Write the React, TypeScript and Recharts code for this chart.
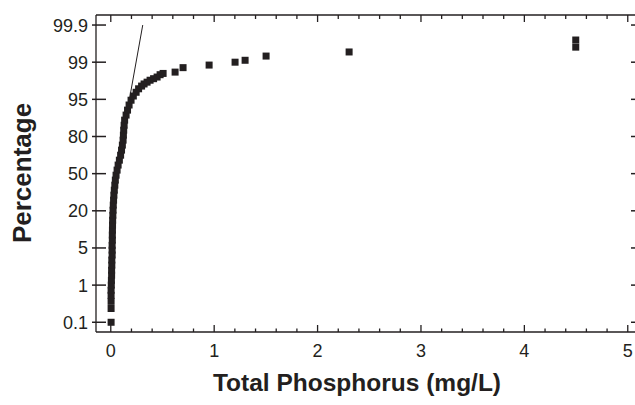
import {
  ComposedChart,
  Customized,
  ReferenceLine,
  Scatter,
  XAxis,
  YAxis,
} from 'recharts'

// probability-plot data: total phosphorus (mg/L) vs cumulative percentage
const phosphorus = [
  0.003, 0.003, 0.003, 0.003, 0.003, 0.005, 0.006, 0.008, 0.008, 0.01,
  0.01, 0.013, 0.013, 0.013, 0.015, 0.015, 0.016, 0.017, 0.018, 0.02,
  0.022, 0.024, 0.027, 0.03, 0.034, 0.039, 0.044, 0.051, 0.061, 0.071,
  0.083, 0.095, 0.104, 0.112, 0.119, 0.122, 0.125, 0.129, 0.134, 0.148,
  0.162, 0.177, 0.196, 0.218, 0.245, 0.269, 0.298, 0.322, 0.351, 0.38,
  0.414, 0.448, 0.477, 0.506,
  0.622, 0.699, 0.951, 1.202, 1.299, 1.502, 2.305, 4.497, 4.497,
]
const percentage = [
  0.1, 0.25, 0.39, 0.56, 0.75, 1.0, 1.26, 1.6, 2.0, 2.5,
  3.1, 3.8, 4.6, 5.6, 7.0, 8.6, 10.4, 12.5, 14.8, 17.4,
  20.4, 23.8, 27.4, 31.3, 35.4, 39.7, 44.2, 48.6, 53.2, 57.7,
  62.0, 66.2, 70.3, 74.1, 77.6, 80.8, 83.6, 86.1, 88.4, 90.4,
  92.1, 93.6, 94.8, 95.6, 96.2, 96.7, 97.05, 97.3, 97.5, 97.7,
  97.85, 98.0, 98.2, 98.3,
  98.4, 98.7, 98.85, 99.0, 99.1, 99.29, 99.44, 99.58, 99.73,
]

// fitted line (visible part)
const fitX = [0.144, 0.309]
const fitPct = [88.4, 99.9]

const yTickPct = [0.1, 1, 5, 20, 50, 80, 95, 99, 99.9]
const yTickLabels = ['0.1', '1', '5', '20', '50', '80', '95', '99', '99.9']
const xMajor = [0, 1, 2, 3, 4, 5]
const xTicks = Array.from({ length: 26 }, (_, i) => Math.round(i * 2) / 10)

const INK = '#231f20'
const FONT = '"Liberation Sans", Arial, Helvetica, sans-serif'
const W = 635
const H = 405
const PLOT_TOP = 15

// inverse normal cdf (Acklam)
function probit(p: number) {
  const a = [-39.69683028665376, 220.9460984245205, -275.9285104469687, 138.357751867269, -30.66479806614716, 2.506628277459239]
  const b = [-54.47609879822406, 161.5858368580409, -155.6989798598866, 66.80131188771972, -13.28068155288572]
  const c = [-0.007784894002430293, -0.3223964580411365, -2.400758277161838, -2.549732539343734, 4.374664141464968, 2.938163982698783]
  const d = [0.007784695709041462, 0.3224671290700398, 2.445134137142996, 3.754408661907416]
  const pl = 0.02425
  if (p < pl) {
    const q = Math.sqrt(-2 * Math.log(p))
    return (((((c[0] * q + c[1]) * q + c[2]) * q + c[3]) * q + c[4]) * q + c[5]) /
      ((((d[0] * q + d[1]) * q + d[2]) * q + d[3]) * q + 1)
  }
  if (p > 1 - pl) {
    const q = Math.sqrt(-2 * Math.log(1 - p))
    return -(((((c[0] * q + c[1]) * q + c[2]) * q + c[3]) * q + c[4]) * q + c[5]) /
      ((((d[0] * q + d[1]) * q + d[2]) * q + d[3]) * q + 1)
  }
  const q = p - 0.5
  const r = q * q
  return (((((a[0] * r + a[1]) * r + a[2]) * r + a[3]) * r + a[4]) * r + a[5]) * q /
    (((((b[0] * r + b[1]) * r + b[2]) * r + b[3]) * r + b[4]) * r + 1)
}

// the axis puts its labelled percentages at equal steps; map a percentage to that step scale
const tickZ = yTickPct.map((p) => probit(p / 100))
function toPos(pct: number) {
  const z = probit(pct / 100)
  let i = 0
  while (i < tickZ.length - 2 && z > tickZ[i + 1]) i++
  return i + (z - tickZ[i]) / (tickZ[i + 1] - tickZ[i])
}

const points = phosphorus.map((x, i) => ({ x, y: toPos(percentage[i]) }))
const yTicks = yTickPct.map((_, i) => i)

const X_DOMAIN: [number, number] = [-0.143, 5.07]
const Y_DOMAIN: [number, number] = [-0.262, 8.27]

// bottom ticks + labels, and the matching inward ticks on the top frame
function BottomTick(props: any) {
  const { x, y, payload } = props
  const major = xMajor.includes(payload.value)
  return (
    <g>
      <line x1={x} y1={y} x2={x} y2={y - (major ? 7 : 3.5)} stroke={INK} strokeWidth={1.3} />
      <line x1={x} y1={PLOT_TOP} x2={x} y2={PLOT_TOP + (major ? 7 : 4)} stroke={INK} strokeWidth={1.3} />
      {major && (
        <text x={x} y={y + 24.5} textAnchor="middle" fontSize={18} fontFamily={FONT} fill={INK}>
          {payload.value}
        </text>
      )}
    </g>
  )
}

// left ticks + labels, and the short ticks at the right edge
function LeftTick(props: any) {
  const { x, y, payload } = props
  return (
    <g>
      <line x1={x - 4} y1={y} x2={x + 10} y2={y} stroke={INK} strokeWidth={1.5} />
      <line x1={W - 4} y1={y} x2={W} y2={y} stroke={INK} strokeWidth={1.5} />
      <text x={x - 8} y={y} dy="0.36em" textAnchor="end" fontSize={18} fontFamily={FONT} fill={INK}>
        {yTickLabels[payload.value]}
      </text>
    </g>
  )
}

function Square(props: any) {
  const { cx, cy } = props
  return <rect x={cx - 3.5} y={cy - 3.5} width={7} height={7} fill={INK} />
}

function Titles() {
  return (
    <g fontFamily={FONT} fontWeight="bold" fill={INK}>
      <text x={357} y={391} textAnchor="middle" fontSize={24.5}>
        Total Phosphorus (mg/L)
      </text>
      <text x={31} y={173} textAnchor="middle" fontSize={26} transform="rotate(-90, 31, 173)">
        Percentage
      </text>
    </g>
  )
}

export default function App() {
  return (
    <div style={{ position: 'fixed', left: 0, top: 0, width: W, height: H, background: '#fff' }}>
      <ComposedChart width={W} height={H} margin={{ top: PLOT_TOP, right: 0, bottom: 0, left: 0 }}>
        <XAxis
          type="number"
          dataKey="x"
          domain={X_DOMAIN}
          ticks={xTicks}
          interval={0}
          allowDataOverflow
          height={73}
          tickSize={0}
          tickMargin={0}
          tickLine={false}
          axisLine={{ stroke: INK, strokeWidth: 1.3 }}
          tick={<BottomTick />}
        />
        <YAxis
          type="number"
          dataKey="y"
          domain={Y_DOMAIN}
          ticks={yTicks}
          interval={0}
          allowDataOverflow
          width={96}
          tickSize={0}
          tickMargin={0}
          tickLine={false}
          axisLine={{ stroke: INK, strokeWidth: 1.3 }}
          tick={<LeftTick />}
        />
        <ReferenceLine y={Y_DOMAIN[1]} stroke={INK} strokeWidth={1.3} />
        <ReferenceLine
          segment={[
            { x: fitX[0], y: toPos(fitPct[0]) },
            { x: fitX[1], y: toPos(fitPct[1]) },
          ]}
          stroke={INK}
          strokeWidth={1}
          ifOverflow="visible"
        />
        <Scatter data={points} shape={<Square />} isAnimationActive={false} />
        <Customized component={<Titles />} />
      </ComposedChart>
    </div>
  )
}
